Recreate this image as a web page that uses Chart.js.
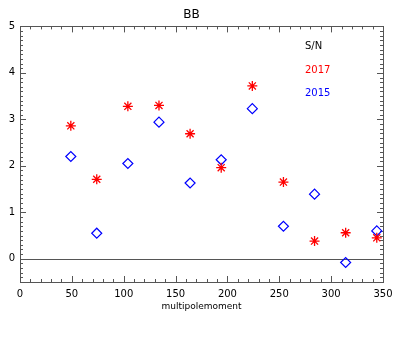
<!DOCTYPE html>
<html>
<head>
<meta charset="utf-8">
<script src="https://cdn.jsdelivr.net/npm/chart.js@4/dist/chart.umd.min.js"></script>
<style>
  html, body { margin: 0; padding: 0; background: #fff; }
  #wrap { width: 415px; height: 337px; }
</style>
</head>
<body>
<div id="wrap"><canvas id="c"></canvas></div>
<script>
const multipoles = [49, 74, 104, 134, 164, 194, 224, 254, 284, 314, 344];
const sn2017 = [2.86, 1.71, 3.28, 3.30, 2.69, 1.96, 3.72, 1.65, 0.38, 0.56, 0.45];
const sn2015 = [2.20, 0.55, 2.05, 2.94, 1.63, 2.13, 3.23, 0.70, 1.39, -0.08, 0.60];
const xTicks = [0, 50, 100, 150, 200, 250, 300, 350];
const yTicks = [0, 1, 2, 3, 4, 5];

const axisColor = "#555";

// IDL style box with inward ticks, plus the zero line and the text legend
const boxPlugin = {
  id: "box",
  beforeDatasetsDraw(chart) {
    const { ctx, chartArea: a, scales } = chart;
    const x = scales.x, y = scales.y;
    ctx.save();
    ctx.strokeStyle = axisColor;
    ctx.lineWidth = 1;
    ctx.strokeRect(Math.round(a.left) + 0.5, Math.round(a.top) + 0.5,
      Math.round(a.right - a.left), Math.round(a.bottom - a.top));
    ctx.beginPath();
    for (let v = 0; v <= 350; v += 10) {
      const px = Math.round(x.getPixelForValue(v)) + 0.5;
      const len = v % 50 === 0 ? 6 : 3;
      ctx.moveTo(px, a.bottom); ctx.lineTo(px, a.bottom - len);
      ctx.moveTo(px, a.top); ctx.lineTo(px, a.top + len);
    }
    for (let i = -5; i <= 50; i++) {
      const v = i / 10;
      const py = Math.round(y.getPixelForValue(v)) + 0.5;
      const len = i % 10 === 0 ? 6 : 3;
      ctx.moveTo(a.left, py); ctx.lineTo(a.left + len, py);
      ctx.moveTo(a.right, py); ctx.lineTo(a.right - len, py);
    }
    ctx.stroke();
    // zero line
    const y0 = Math.round(y.getPixelForValue(0)) + 0.5;
    ctx.beginPath();
    ctx.moveTo(a.left, y0); ctx.lineTo(a.right, y0);
    ctx.stroke();
    // legend text
    ctx.font = "10px 'DejaVu Sans', sans-serif";
    ctx.textBaseline = "middle";
    ctx.textAlign = "left";
    const lx = a.left + 285;
    ctx.fillStyle = "#000"; ctx.fillText("S/N", lx, a.top + 20);
    ctx.fillStyle = "#ff0000"; ctx.fillText("2017", lx, a.top + 44);
    ctx.fillStyle = "#0000ff"; ctx.fillText("2015", lx, a.top + 67);
    ctx.restore();
  }
};

new Chart(document.getElementById("c"), {
  type: "scatter",
  data: {
    datasets: [
      {
        label: "2017",
        data: multipoles.map((m, i) => ({ x: m, y: sn2017[i] })),
        pointStyle: "star",
        radius: 5,
        borderColor: "#ff0000",
        backgroundColor: "#ff0000",
        borderWidth: 1.3
      },
      {
        label: "2015",
        data: multipoles.map((m, i) => ({ x: m, y: sn2015[i] })),
        pointStyle: "rectRot",
        radius: 5,
        borderColor: "#0000ff",
        backgroundColor: "rgba(0,0,0,0)",
        borderWidth: 1.2
      }
    ]
  },
  options: {
    responsive: true,
    maintainAspectRatio: false,
    animation: false,
    events: [],
    layout: { padding: { top: 0, right: 32, left: 0, bottom: 25 } },
    plugins: {
      legend: { display: false },
      tooltip: { enabled: false },
      title: {
        display: true,
        text: "BB",
        color: "#000",
        font: { family: "'DejaVu Sans', sans-serif", size: 12, weight: "normal" },
        padding: { top: 8, bottom: 4 }
      }
    },
    scales: {
      x: {
        type: "linear",
        min: 0,
        max: 350,
        afterBuildTicks: s => { s.ticks = xTicks.map(v => ({ value: v })); },
        afterFit: s => { s.height = 30; },
        grid: { display: false, drawTicks: false },
        border: { display: false },
        ticks: {
          color: "#000",
          padding: 6,
          maxRotation: 0,
          font: { family: "'DejaVu Sans', sans-serif", size: 10 }
        },
        title: {
          display: true,
          text: "multipolemoment",
          color: "#000",
          padding: { top: 0, bottom: 0 },
          font: { family: "'DejaVu Sans', sans-serif", size: 9 }
        }
      },
      y: {
        type: "linear",
        min: -0.5,
        max: 5,
        afterBuildTicks: s => { s.ticks = yTicks.map(v => ({ value: v })); },
        afterFit: s => { s.width = 20; },
        grid: { display: false, drawTicks: false },
        border: { display: false },
        ticks: {
          color: "#000",
          padding: 5,
          font: { family: "'DejaVu Sans', sans-serif", size: 10 }
        }
      }
    }
  },
  plugins: [boxPlugin]
});
</script>
</body>
</html>
